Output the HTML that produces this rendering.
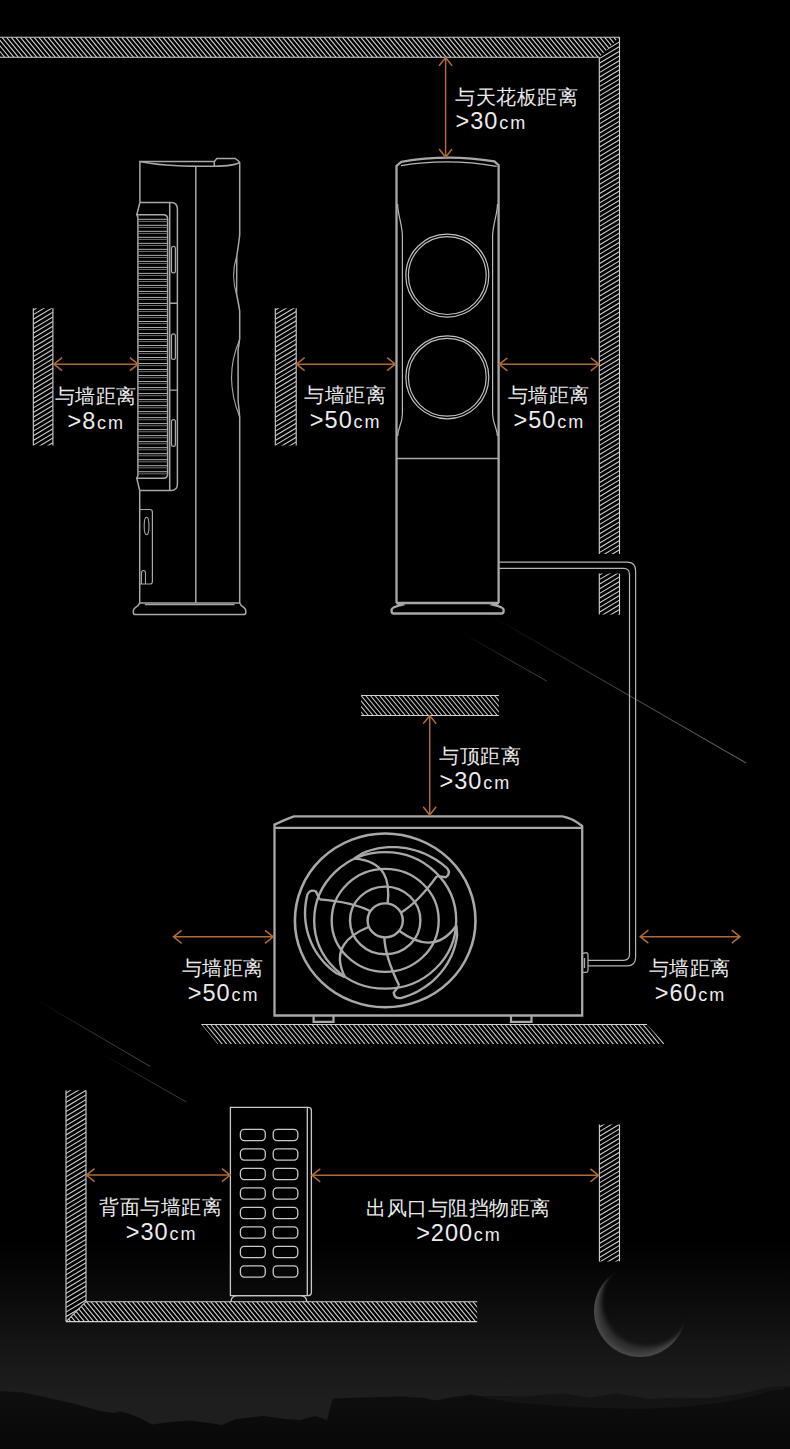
<!DOCTYPE html>
<html><head><meta charset="utf-8"><title>安装距离示意</title>
<style>
html,body{margin:0;padding:0;background:#000;overflow:hidden;}
#w{position:relative;width:790px;height:1449px;overflow:hidden;}
body{width:790px;height:1449px;position:relative;overflow:hidden;font-family:"Liberation Sans",sans-serif;color:#ececec;}
svg{position:absolute;left:0;top:0;display:block;}
.c,.l{position:absolute;white-space:nowrap;line-height:1;}
.c{font-size:19.5px;letter-spacing:0.5px;}
.l{font-size:23.5px;letter-spacing:1.0px;}
.u{font-size:18px;letter-spacing:2.0px;margin-left:0.8px;}
</style></head>
<body>
<div id="w">
<svg width="790" height="1449" viewBox="0 0 790 1449">

<defs>
<linearGradient id="bg" x1="0" y1="0" x2="0" y2="1449" gradientUnits="userSpaceOnUse">
<stop offset="0" stop-color="#000"/>
<stop offset="0.855" stop-color="#000"/>
<stop offset="0.9" stop-color="#0c0c0c"/>
<stop offset="0.935" stop-color="#171717"/>
<stop offset="0.966" stop-color="#1e1e1e"/>
<stop offset="1" stop-color="#1e1e1e"/>
</linearGradient>
<linearGradient id="mt" x1="0" y1="1385" x2="0" y2="1449" gradientUnits="userSpaceOnUse">
<stop offset="0" stop-color="#0f0f0f"/>
<stop offset="1" stop-color="#080808"/>
</linearGradient>
<radialGradient id="moonlit" cx="640" cy="1311" r="46" gradientUnits="userSpaceOnUse">
<stop offset="0.7" stop-color="#262626"/>
<stop offset="0.88" stop-color="#363636"/>
<stop offset="1" stop-color="#4a4a4a"/>
</radialGradient>
<filter id="mblur" x="-30%" y="-30%" width="160%" height="160%"><feGaussianBlur stdDeviation="2"/></filter>
<mask id="moonmask" maskUnits="userSpaceOnUse" x="560" y="1230" width="160" height="160">
<rect x="560" y="1230" width="160" height="160" fill="#000"/>
<circle cx="640" cy="1311" r="46" fill="#fff"/>
<circle cx="647.5" cy="1300.5" r="46" fill="#000" filter="url(#mblur)"/>
</mask>
<clipPath id="c1"><polygon points="0,37.3 619.5,37.3 599.3,57.3 0,57.3"/></clipPath>
<clipPath id="c2"><polygon points="599.3,57.3 619.5,37.3 619.5,554 599.3,554"/></clipPath>
<clipPath id="c3"><polygon points="599.3,573.6 619.5,573.6 619.5,614.6 599.3,614.6"/></clipPath>
<clipPath id="c4"><polygon points="33.3,308.2 52.9,308.2 52.9,445.5 33.3,445.5"/></clipPath>
<clipPath id="c5"><polygon points="275.3,308.2 296.2,308.2 296.2,445.5 275.3,445.5"/></clipPath>
<clipPath id="c6"><polygon points="361.1,695.5 498.9,695.5 498.9,715.5 361.1,715.5"/></clipPath>
<clipPath id="c7"><polygon points="201.4,1024.5 647,1024.5 665.268,1044.1 217.668,1044.1"/></clipPath>
<clipPath id="c8"><polygon points="66,1090.3 86,1090.3 86,1301.7 66,1321.6"/></clipPath>
<clipPath id="c9"><polygon points="66,1321.6 86,1301.7 477.2,1301.7 477.2,1321.6"/></clipPath>
<clipPath id="c10"><polygon points="599.4,1124.6 619.5,1124.6 619.5,1261.4 599.4,1261.4"/></clipPath>
</defs>
<rect width="790" height="1449" fill="url(#bg)"/>
<rect x="560" y="1230" width="160" height="160" fill="url(#moonlit)" mask="url(#moonmask)"/>
<path d="M470,1449 L470,1396 L490,1396 L527,1396.5 L545,1394.5 L565,1393.4 L590,1398 L600,1396 L617,1393.4 L650,1399 L670,1397.7 L710,1398 L740,1394 L770,1387 L790,1386 L790,1449 Z" fill="#141414"/>
<path d="M0,1391 L23,1392.5 L45,1397 L75,1404 L100,1411 L113,1413 L120,1411.5 L127,1413 L140,1418 L152,1424.5 L170,1422 L190,1420.5 L210,1423 L222,1425 L236,1419 L250,1417.5 L264,1416 L285,1419 L300,1420 L315,1416 L322,1418 L327,1420.8 L330,1408 L333,1398.5 L360,1397.5 L400,1396.5 L426,1398 L435,1400.5 L450,1397.5 L472,1394.5 L490,1399 L520,1403 L560,1406 L600,1408 L640,1409 L680,1407 L720,1403 L745,1398 L770,1391 L790,1388 L790,1449 L0,1449 Z" fill="url(#mt)"/>
<defs><linearGradient id="sg0" gradientUnits="userSpaceOnUse" x1="464.4" y1="634.3" x2="546.3" y2="680.8"><stop offset="0" stop-color="#444" stop-opacity="0"/><stop offset="0.5" stop-color="#444" stop-opacity="0.7"/><stop offset="1" stop-color="#444"/></linearGradient><linearGradient id="sg1" gradientUnits="userSpaceOnUse" x1="488.7" y1="614.4" x2="745.7" y2="762.8"><stop offset="0" stop-color="#5a5a5a" stop-opacity="0"/><stop offset="0.5" stop-color="#5a5a5a" stop-opacity="0.7"/><stop offset="1" stop-color="#5a5a5a"/></linearGradient><linearGradient id="sg2" gradientUnits="userSpaceOnUse" x1="36.2" y1="999.7" x2="149.8" y2="1066.2"><stop offset="0" stop-color="#484848" stop-opacity="0"/><stop offset="0.5" stop-color="#484848" stop-opacity="0.7"/><stop offset="1" stop-color="#484848"/></linearGradient><linearGradient id="sg3" gradientUnits="userSpaceOnUse" x1="102" y1="1054" x2="186" y2="1101.8"><stop offset="0" stop-color="#404040" stop-opacity="0"/><stop offset="0.5" stop-color="#404040" stop-opacity="0.7"/><stop offset="1" stop-color="#404040"/></linearGradient></defs>
<g stroke-linecap="round">
<line x1="464.4" y1="634.3" x2="546.3" y2="680.8" stroke="url(#sg0)" stroke-width="1.0"/>
<line x1="488.7" y1="614.4" x2="745.7" y2="762.8" stroke="url(#sg1)" stroke-width="1.1"/>
<line x1="36.2" y1="999.7" x2="149.8" y2="1066.2" stroke="url(#sg2)" stroke-width="1.0"/>
<line x1="102" y1="1054" x2="186" y2="1101.8" stroke="url(#sg3)" stroke-width="1.0"/>
</g>

<polygon points="0,37.3 619.5,37.3 599.3,57.3 0,57.3" fill="#000"/><path clip-path="url(#c1)" d="M-25.60,37.30L-9.00,57.30M-21.00,37.30L-4.40,57.30M-16.40,37.30L0.20,57.30M-11.80,37.30L4.80,57.30M-7.20,37.30L9.40,57.30M-2.60,37.30L14.00,57.30M2.00,37.30L18.60,57.30M6.60,37.30L23.20,57.30M11.20,37.30L27.80,57.30M15.80,37.30L32.40,57.30M20.40,37.30L37.00,57.30M25.00,37.30L41.60,57.30M29.60,37.30L46.20,57.30M34.20,37.30L50.80,57.30M38.80,37.30L55.40,57.30M43.40,37.30L60.00,57.30M48.00,37.30L64.60,57.30M52.60,37.30L69.20,57.30M57.20,37.30L73.80,57.30M61.80,37.30L78.40,57.30M66.40,37.30L83.00,57.30M71.00,37.30L87.60,57.30M75.60,37.30L92.20,57.30M80.20,37.30L96.80,57.30M84.80,37.30L101.40,57.30M89.40,37.30L106.00,57.30M94.00,37.30L110.60,57.30M98.60,37.30L115.20,57.30M103.20,37.30L119.80,57.30M107.80,37.30L124.40,57.30M112.40,37.30L129.00,57.30M117.00,37.30L133.60,57.30M121.60,37.30L138.20,57.30M126.20,37.30L142.80,57.30M130.80,37.30L147.40,57.30M135.40,37.30L152.00,57.30M140.00,37.30L156.60,57.30M144.60,37.30L161.20,57.30M149.20,37.30L165.80,57.30M153.80,37.30L170.40,57.30M158.40,37.30L175.00,57.30M163.00,37.30L179.60,57.30M167.60,37.30L184.20,57.30M172.20,37.30L188.80,57.30M176.80,37.30L193.40,57.30M181.40,37.30L198.00,57.30M186.00,37.30L202.60,57.30M190.60,37.30L207.20,57.30M195.20,37.30L211.80,57.30M199.80,37.30L216.40,57.30M204.40,37.30L221.00,57.30M209.00,37.30L225.60,57.30M213.60,37.30L230.20,57.30M218.20,37.30L234.80,57.30M222.80,37.30L239.40,57.30M227.40,37.30L244.00,57.30M232.00,37.30L248.60,57.30M236.60,37.30L253.20,57.30M241.20,37.30L257.80,57.30M245.80,37.30L262.40,57.30M250.40,37.30L267.00,57.30M255.00,37.30L271.60,57.30M259.60,37.30L276.20,57.30M264.20,37.30L280.80,57.30M268.80,37.30L285.40,57.30M273.40,37.30L290.00,57.30M278.00,37.30L294.60,57.30M282.60,37.30L299.20,57.30M287.20,37.30L303.80,57.30M291.80,37.30L308.40,57.30M296.40,37.30L313.00,57.30M301.00,37.30L317.60,57.30M305.60,37.30L322.20,57.30M310.20,37.30L326.80,57.30M314.80,37.30L331.40,57.30M319.40,37.30L336.00,57.30M324.00,37.30L340.60,57.30M328.60,37.30L345.20,57.30M333.20,37.30L349.80,57.30M337.80,37.30L354.40,57.30M342.40,37.30L359.00,57.30M347.00,37.30L363.60,57.30M351.60,37.30L368.20,57.30M356.20,37.30L372.80,57.30M360.80,37.30L377.40,57.30M365.40,37.30L382.00,57.30M370.00,37.30L386.60,57.30M374.60,37.30L391.20,57.30M379.20,37.30L395.80,57.30M383.80,37.30L400.40,57.30M388.40,37.30L405.00,57.30M393.00,37.30L409.60,57.30M397.60,37.30L414.20,57.30M402.20,37.30L418.80,57.30M406.80,37.30L423.40,57.30M411.40,37.30L428.00,57.30M416.00,37.30L432.60,57.30M420.60,37.30L437.20,57.30M425.20,37.30L441.80,57.30M429.80,37.30L446.40,57.30M434.40,37.30L451.00,57.30M439.00,37.30L455.60,57.30M443.60,37.30L460.20,57.30M448.20,37.30L464.80,57.30M452.80,37.30L469.40,57.30M457.40,37.30L474.00,57.30M462.00,37.30L478.60,57.30M466.60,37.30L483.20,57.30M471.20,37.30L487.80,57.30M475.80,37.30L492.40,57.30M480.40,37.30L497.00,57.30M485.00,37.30L501.60,57.30M489.60,37.30L506.20,57.30M494.20,37.30L510.80,57.30M498.80,37.30L515.40,57.30M503.40,37.30L520.00,57.30M508.00,37.30L524.60,57.30M512.60,37.30L529.20,57.30M517.20,37.30L533.80,57.30M521.80,37.30L538.40,57.30M526.40,37.30L543.00,57.30M531.00,37.30L547.60,57.30M535.60,37.30L552.20,57.30M540.20,37.30L556.80,57.30M544.80,37.30L561.40,57.30M549.40,37.30L566.00,57.30M554.00,37.30L570.60,57.30M558.60,37.30L575.20,57.30M563.20,37.30L579.80,57.30M567.80,37.30L584.40,57.30M572.40,37.30L589.00,57.30M577.00,37.30L593.60,57.30M581.60,37.30L598.20,57.30M586.20,37.30L602.80,57.30M590.80,37.30L607.40,57.30M595.40,37.30L612.00,57.30M600.00,37.30L616.60,57.30M604.60,37.30L621.20,57.30M609.20,37.30L625.80,57.30M613.80,37.30L630.40,57.30M618.40,37.30L635.00,57.30M623.00,37.30L639.60,57.30M627.60,37.30L644.20,57.30" stroke="#d2d2d2" stroke-width="1.05" fill="none"/>
<polygon points="599.3,57.3 619.5,37.3 619.5,554 599.3,554" fill="#000"/><path clip-path="url(#c2)" d="M599.30,35.34L619.50,23.22M599.30,40.00L619.50,27.88M599.30,44.66L619.50,32.54M599.30,49.32L619.50,37.20M599.30,53.98L619.50,41.86M599.30,58.64L619.50,46.52M599.30,63.30L619.50,51.18M599.30,67.96L619.50,55.84M599.30,72.62L619.50,60.50M599.30,77.28L619.50,65.16M599.30,81.94L619.50,69.82M599.30,86.60L619.50,74.48M599.30,91.26L619.50,79.14M599.30,95.92L619.50,83.80M599.30,100.58L619.50,88.46M599.30,105.24L619.50,93.12M599.30,109.90L619.50,97.78M599.30,114.56L619.50,102.44M599.30,119.22L619.50,107.10M599.30,123.88L619.50,111.76M599.30,128.54L619.50,116.42M599.30,133.20L619.50,121.08M599.30,137.86L619.50,125.74M599.30,142.52L619.50,130.40M599.30,147.18L619.50,135.06M599.30,151.84L619.50,139.72M599.30,156.50L619.50,144.38M599.30,161.16L619.50,149.04M599.30,165.82L619.50,153.70M599.30,170.48L619.50,158.36M599.30,175.14L619.50,163.02M599.30,179.80L619.50,167.68M599.30,184.46L619.50,172.34M599.30,189.12L619.50,177.00M599.30,193.78L619.50,181.66M599.30,198.44L619.50,186.32M599.30,203.10L619.50,190.98M599.30,207.76L619.50,195.64M599.30,212.42L619.50,200.30M599.30,217.08L619.50,204.96M599.30,221.74L619.50,209.62M599.30,226.40L619.50,214.28M599.30,231.06L619.50,218.94M599.30,235.72L619.50,223.60M599.30,240.38L619.50,228.26M599.30,245.04L619.50,232.92M599.30,249.70L619.50,237.58M599.30,254.36L619.50,242.24M599.30,259.02L619.50,246.90M599.30,263.68L619.50,251.56M599.30,268.34L619.50,256.22M599.30,273.00L619.50,260.88M599.30,277.66L619.50,265.54M599.30,282.32L619.50,270.20M599.30,286.98L619.50,274.86M599.30,291.64L619.50,279.52M599.30,296.30L619.50,284.18M599.30,300.96L619.50,288.84M599.30,305.62L619.50,293.50M599.30,310.28L619.50,298.16M599.30,314.94L619.50,302.82M599.30,319.60L619.50,307.48M599.30,324.26L619.50,312.14M599.30,328.92L619.50,316.80M599.30,333.58L619.50,321.46M599.30,338.24L619.50,326.12M599.30,342.90L619.50,330.78M599.30,347.56L619.50,335.44M599.30,352.22L619.50,340.10M599.30,356.88L619.50,344.76M599.30,361.54L619.50,349.42M599.30,366.20L619.50,354.08M599.30,370.86L619.50,358.74M599.30,375.52L619.50,363.40M599.30,380.18L619.50,368.06M599.30,384.84L619.50,372.72M599.30,389.50L619.50,377.38M599.30,394.16L619.50,382.04M599.30,398.82L619.50,386.70M599.30,403.48L619.50,391.36M599.30,408.14L619.50,396.02M599.30,412.80L619.50,400.68M599.30,417.46L619.50,405.34M599.30,422.12L619.50,410.00M599.30,426.78L619.50,414.66M599.30,431.44L619.50,419.32M599.30,436.10L619.50,423.98M599.30,440.76L619.50,428.64M599.30,445.42L619.50,433.30M599.30,450.08L619.50,437.96M599.30,454.74L619.50,442.62M599.30,459.40L619.50,447.28M599.30,464.06L619.50,451.94M599.30,468.72L619.50,456.60M599.30,473.38L619.50,461.26M599.30,478.04L619.50,465.92M599.30,482.70L619.50,470.58M599.30,487.36L619.50,475.24M599.30,492.02L619.50,479.90M599.30,496.68L619.50,484.56M599.30,501.34L619.50,489.22M599.30,506.00L619.50,493.88M599.30,510.66L619.50,498.54M599.30,515.32L619.50,503.20M599.30,519.98L619.50,507.86M599.30,524.64L619.50,512.52M599.30,529.30L619.50,517.18M599.30,533.96L619.50,521.84M599.30,538.62L619.50,526.50M599.30,543.28L619.50,531.16M599.30,547.94L619.50,535.82M599.30,552.60L619.50,540.48M599.30,557.26L619.50,545.14M599.30,561.92L619.50,549.80M599.30,566.58L619.50,554.46" stroke="#d2d2d2" stroke-width="1.05" fill="none"/>
<line x1="0" y1="37.3" x2="619.5" y2="37.3" stroke="#d2d2d2" stroke-width="1.1"/>
<line x1="0" y1="57.3" x2="599.3" y2="57.3" stroke="#d2d2d2" stroke-width="1.1"/>
<line x1="619.5" y1="37.3" x2="619.5" y2="554" stroke="#d2d2d2" stroke-width="1.1"/>
<line x1="599.3" y1="57.3" x2="599.3" y2="554" stroke="#d2d2d2" stroke-width="1.1"/>
<polygon points="599.3,573.6 619.5,573.6 619.5,614.6 599.3,614.6" fill="#000"/><path clip-path="url(#c3)" d="M599.30,570.34L619.50,558.22M599.30,575.00L619.50,562.88M599.30,579.66L619.50,567.54M599.30,584.32L619.50,572.20M599.30,588.98L619.50,576.86M599.30,593.64L619.50,581.52M599.30,598.30L619.50,586.18M599.30,602.96L619.50,590.84M599.30,607.62L619.50,595.50M599.30,612.28L619.50,600.16M599.30,616.94L619.50,604.82M599.30,621.60L619.50,609.48M599.30,626.26L619.50,614.14M599.30,630.92L619.50,618.80" stroke="#d2d2d2" stroke-width="1.05" fill="none"/>
<line x1="619.5" y1="573.6" x2="619.5" y2="614.6" stroke="#d2d2d2" stroke-width="1.1"/>
<line x1="599.3" y1="573.6" x2="599.3" y2="614.6" stroke="#d2d2d2" stroke-width="1.1"/>
<polygon points="33.3,308.2 52.9,308.2 52.9,445.5 33.3,445.5" fill="#000"/><path clip-path="url(#c4)" d="M33.30,305.34L52.90,293.58M33.30,310.00L52.90,298.24M33.30,314.66L52.90,302.90M33.30,319.32L52.90,307.56M33.30,323.98L52.90,312.22M33.30,328.64L52.90,316.88M33.30,333.30L52.90,321.54M33.30,337.96L52.90,326.20M33.30,342.62L52.90,330.86M33.30,347.28L52.90,335.52M33.30,351.94L52.90,340.18M33.30,356.60L52.90,344.84M33.30,361.26L52.90,349.50M33.30,365.92L52.90,354.16M33.30,370.58L52.90,358.82M33.30,375.24L52.90,363.48M33.30,379.90L52.90,368.14M33.30,384.56L52.90,372.80M33.30,389.22L52.90,377.46M33.30,393.88L52.90,382.12M33.30,398.54L52.90,386.78M33.30,403.20L52.90,391.44M33.30,407.86L52.90,396.10M33.30,412.52L52.90,400.76M33.30,417.18L52.90,405.42M33.30,421.84L52.90,410.08M33.30,426.50L52.90,414.74M33.30,431.16L52.90,419.40M33.30,435.82L52.90,424.06M33.30,440.48L52.90,428.72M33.30,445.14L52.90,433.38M33.30,449.80L52.90,438.04M33.30,454.46L52.90,442.70M33.30,459.12L52.90,447.36" stroke="#d2d2d2" stroke-width="1.05" fill="none"/>
<line x1="33.3" y1="308.2" x2="33.3" y2="445.5" stroke="#d2d2d2" stroke-width="1.1"/>
<line x1="52.9" y1="308.2" x2="52.9" y2="445.5" stroke="#d2d2d2" stroke-width="1.1"/>
<polygon points="275.3,308.2 296.2,308.2 296.2,445.5 275.3,445.5" fill="#000"/><path clip-path="url(#c5)" d="M275.30,305.34L296.20,292.80M275.30,310.00L296.20,297.46M275.30,314.66L296.20,302.12M275.30,319.32L296.20,306.78M275.30,323.98L296.20,311.44M275.30,328.64L296.20,316.10M275.30,333.30L296.20,320.76M275.30,337.96L296.20,325.42M275.30,342.62L296.20,330.08M275.30,347.28L296.20,334.74M275.30,351.94L296.20,339.40M275.30,356.60L296.20,344.06M275.30,361.26L296.20,348.72M275.30,365.92L296.20,353.38M275.30,370.58L296.20,358.04M275.30,375.24L296.20,362.70M275.30,379.90L296.20,367.36M275.30,384.56L296.20,372.02M275.30,389.22L296.20,376.68M275.30,393.88L296.20,381.34M275.30,398.54L296.20,386.00M275.30,403.20L296.20,390.66M275.30,407.86L296.20,395.32M275.30,412.52L296.20,399.98M275.30,417.18L296.20,404.64M275.30,421.84L296.20,409.30M275.30,426.50L296.20,413.96M275.30,431.16L296.20,418.62M275.30,435.82L296.20,423.28M275.30,440.48L296.20,427.94M275.30,445.14L296.20,432.60M275.30,449.80L296.20,437.26M275.30,454.46L296.20,441.92M275.30,459.12L296.20,446.58" stroke="#d2d2d2" stroke-width="1.05" fill="none"/>
<line x1="275.3" y1="308.2" x2="275.3" y2="445.5" stroke="#d2d2d2" stroke-width="1.1"/>
<line x1="296.2" y1="308.2" x2="296.2" y2="445.5" stroke="#d2d2d2" stroke-width="1.1"/>
<polygon points="361.1,695.5 498.9,695.5 498.9,715.5 361.1,715.5" fill="#000"/><path clip-path="url(#c6)" d="M338.10,695.50L354.70,715.50M342.70,695.50L359.30,715.50M347.30,695.50L363.90,715.50M351.90,695.50L368.50,715.50M356.50,695.50L373.10,715.50M361.10,695.50L377.70,715.50M365.70,695.50L382.30,715.50M370.30,695.50L386.90,715.50M374.90,695.50L391.50,715.50M379.50,695.50L396.10,715.50M384.10,695.50L400.70,715.50M388.70,695.50L405.30,715.50M393.30,695.50L409.90,715.50M397.90,695.50L414.50,715.50M402.50,695.50L419.10,715.50M407.10,695.50L423.70,715.50M411.70,695.50L428.30,715.50M416.30,695.50L432.90,715.50M420.90,695.50L437.50,715.50M425.50,695.50L442.10,715.50M430.10,695.50L446.70,715.50M434.70,695.50L451.30,715.50M439.30,695.50L455.90,715.50M443.90,695.50L460.50,715.50M448.50,695.50L465.10,715.50M453.10,695.50L469.70,715.50M457.70,695.50L474.30,715.50M462.30,695.50L478.90,715.50M466.90,695.50L483.50,715.50M471.50,695.50L488.10,715.50M476.10,695.50L492.70,715.50M480.70,695.50L497.30,715.50M485.30,695.50L501.90,715.50M489.90,695.50L506.50,715.50M494.50,695.50L511.10,715.50M499.10,695.50L515.70,715.50M503.70,695.50L520.30,715.50M508.30,695.50L524.90,715.50" stroke="#d2d2d2" stroke-width="1.05" fill="none"/>
<line x1="361.1" y1="695.5" x2="498.9" y2="695.5" stroke="#d2d2d2" stroke-width="1.1"/>
<line x1="361.1" y1="715.5" x2="498.9" y2="715.5" stroke="#d2d2d2" stroke-width="1.1"/>
<polygon points="201.4,1024.5 647,1024.5 665.268,1044.1 217.668,1044.1" fill="#000"/><path clip-path="url(#c7)" d="M178.40,1024.50L194.67,1044.10M183.00,1024.50L199.27,1044.10M187.60,1024.50L203.87,1044.10M192.20,1024.50L208.47,1044.10M196.80,1024.50L213.07,1044.10M201.40,1024.50L217.67,1044.10M206.00,1024.50L222.27,1044.10M210.60,1024.50L226.87,1044.10M215.20,1024.50L231.47,1044.10M219.80,1024.50L236.07,1044.10M224.40,1024.50L240.67,1044.10M229.00,1024.50L245.27,1044.10M233.60,1024.50L249.87,1044.10M238.20,1024.50L254.47,1044.10M242.80,1024.50L259.07,1044.10M247.40,1024.50L263.67,1044.10M252.00,1024.50L268.27,1044.10M256.60,1024.50L272.87,1044.10M261.20,1024.50L277.47,1044.10M265.80,1024.50L282.07,1044.10M270.40,1024.50L286.67,1044.10M275.00,1024.50L291.27,1044.10M279.60,1024.50L295.87,1044.10M284.20,1024.50L300.47,1044.10M288.80,1024.50L305.07,1044.10M293.40,1024.50L309.67,1044.10M298.00,1024.50L314.27,1044.10M302.60,1024.50L318.87,1044.10M307.20,1024.50L323.47,1044.10M311.80,1024.50L328.07,1044.10M316.40,1024.50L332.67,1044.10M321.00,1024.50L337.27,1044.10M325.60,1024.50L341.87,1044.10M330.20,1024.50L346.47,1044.10M334.80,1024.50L351.07,1044.10M339.40,1024.50L355.67,1044.10M344.00,1024.50L360.27,1044.10M348.60,1024.50L364.87,1044.10M353.20,1024.50L369.47,1044.10M357.80,1024.50L374.07,1044.10M362.40,1024.50L378.67,1044.10M367.00,1024.50L383.27,1044.10M371.60,1024.50L387.87,1044.10M376.20,1024.50L392.47,1044.10M380.80,1024.50L397.07,1044.10M385.40,1024.50L401.67,1044.10M390.00,1024.50L406.27,1044.10M394.60,1024.50L410.87,1044.10M399.20,1024.50L415.47,1044.10M403.80,1024.50L420.07,1044.10M408.40,1024.50L424.67,1044.10M413.00,1024.50L429.27,1044.10M417.60,1024.50L433.87,1044.10M422.20,1024.50L438.47,1044.10M426.80,1024.50L443.07,1044.10M431.40,1024.50L447.67,1044.10M436.00,1024.50L452.27,1044.10M440.60,1024.50L456.87,1044.10M445.20,1024.50L461.47,1044.10M449.80,1024.50L466.07,1044.10M454.40,1024.50L470.67,1044.10M459.00,1024.50L475.27,1044.10M463.60,1024.50L479.87,1044.10M468.20,1024.50L484.47,1044.10M472.80,1024.50L489.07,1044.10M477.40,1024.50L493.67,1044.10M482.00,1024.50L498.27,1044.10M486.60,1024.50L502.87,1044.10M491.20,1024.50L507.47,1044.10M495.80,1024.50L512.07,1044.10M500.40,1024.50L516.67,1044.10M505.00,1024.50L521.27,1044.10M509.60,1024.50L525.87,1044.10M514.20,1024.50L530.47,1044.10M518.80,1024.50L535.07,1044.10M523.40,1024.50L539.67,1044.10M528.00,1024.50L544.27,1044.10M532.60,1024.50L548.87,1044.10M537.20,1024.50L553.47,1044.10M541.80,1024.50L558.07,1044.10M546.40,1024.50L562.67,1044.10M551.00,1024.50L567.27,1044.10M555.60,1024.50L571.87,1044.10M560.20,1024.50L576.47,1044.10M564.80,1024.50L581.07,1044.10M569.40,1024.50L585.67,1044.10M574.00,1024.50L590.27,1044.10M578.60,1024.50L594.87,1044.10M583.20,1024.50L599.47,1044.10M587.80,1024.50L604.07,1044.10M592.40,1024.50L608.67,1044.10M597.00,1024.50L613.27,1044.10M601.60,1024.50L617.87,1044.10M606.20,1024.50L622.47,1044.10M610.80,1024.50L627.07,1044.10M615.40,1024.50L631.67,1044.10M620.00,1024.50L636.27,1044.10M624.60,1024.50L640.87,1044.10M629.20,1024.50L645.47,1044.10M633.80,1024.50L650.07,1044.10M638.40,1024.50L654.67,1044.10M643.00,1024.50L659.27,1044.10M647.60,1024.50L663.87,1044.10M652.20,1024.50L668.47,1044.10M656.80,1024.50L673.07,1044.10M661.40,1024.50L677.67,1044.10M666.00,1024.50L682.27,1044.10" stroke="#d2d2d2" stroke-width="1.05" fill="none"/>
<line x1="201.4" y1="1024.5" x2="647" y2="1024.5" stroke="#d2d2d2" stroke-width="1.1"/>
<polygon points="66,1090.3 86,1090.3 86,1301.7 66,1321.6" fill="#000"/><path clip-path="url(#c8)" d="M66.00,1088.34L86.00,1076.34M66.00,1093.00L86.00,1081.00M66.00,1097.66L86.00,1085.66M66.00,1102.32L86.00,1090.32M66.00,1106.98L86.00,1094.98M66.00,1111.64L86.00,1099.64M66.00,1116.30L86.00,1104.30M66.00,1120.96L86.00,1108.96M66.00,1125.62L86.00,1113.62M66.00,1130.28L86.00,1118.28M66.00,1134.94L86.00,1122.94M66.00,1139.60L86.00,1127.60M66.00,1144.26L86.00,1132.26M66.00,1148.92L86.00,1136.92M66.00,1153.58L86.00,1141.58M66.00,1158.24L86.00,1146.24M66.00,1162.90L86.00,1150.90M66.00,1167.56L86.00,1155.56M66.00,1172.22L86.00,1160.22M66.00,1176.88L86.00,1164.88M66.00,1181.54L86.00,1169.54M66.00,1186.20L86.00,1174.20M66.00,1190.86L86.00,1178.86M66.00,1195.52L86.00,1183.52M66.00,1200.18L86.00,1188.18M66.00,1204.84L86.00,1192.84M66.00,1209.50L86.00,1197.50M66.00,1214.16L86.00,1202.16M66.00,1218.82L86.00,1206.82M66.00,1223.48L86.00,1211.48M66.00,1228.14L86.00,1216.14M66.00,1232.80L86.00,1220.80M66.00,1237.46L86.00,1225.46M66.00,1242.12L86.00,1230.12M66.00,1246.78L86.00,1234.78M66.00,1251.44L86.00,1239.44M66.00,1256.10L86.00,1244.10M66.00,1260.76L86.00,1248.76M66.00,1265.42L86.00,1253.42M66.00,1270.08L86.00,1258.08M66.00,1274.74L86.00,1262.74M66.00,1279.40L86.00,1267.40M66.00,1284.06L86.00,1272.06M66.00,1288.72L86.00,1276.72M66.00,1293.38L86.00,1281.38M66.00,1298.04L86.00,1286.04M66.00,1302.70L86.00,1290.70M66.00,1307.36L86.00,1295.36M66.00,1312.02L86.00,1300.02M66.00,1316.68L86.00,1304.68M66.00,1321.34L86.00,1309.34M66.00,1326.00L86.00,1314.00M66.00,1330.66L86.00,1318.66M66.00,1335.32L86.00,1323.32" stroke="#d2d2d2" stroke-width="1.05" fill="none"/>
<polygon points="66,1321.6 86,1301.7 477.2,1301.7 477.2,1321.6" fill="#000"/><path clip-path="url(#c9)" d="M40.40,1301.70L56.92,1321.60M45.00,1301.70L61.52,1321.60M49.60,1301.70L66.12,1321.60M54.20,1301.70L70.72,1321.60M58.80,1301.70L75.32,1321.60M63.40,1301.70L79.92,1321.60M68.00,1301.70L84.52,1321.60M72.60,1301.70L89.12,1321.60M77.20,1301.70L93.72,1321.60M81.80,1301.70L98.32,1321.60M86.40,1301.70L102.92,1321.60M91.00,1301.70L107.52,1321.60M95.60,1301.70L112.12,1321.60M100.20,1301.70L116.72,1321.60M104.80,1301.70L121.32,1321.60M109.40,1301.70L125.92,1321.60M114.00,1301.70L130.52,1321.60M118.60,1301.70L135.12,1321.60M123.20,1301.70L139.72,1321.60M127.80,1301.70L144.32,1321.60M132.40,1301.70L148.92,1321.60M137.00,1301.70L153.52,1321.60M141.60,1301.70L158.12,1321.60M146.20,1301.70L162.72,1321.60M150.80,1301.70L167.32,1321.60M155.40,1301.70L171.92,1321.60M160.00,1301.70L176.52,1321.60M164.60,1301.70L181.12,1321.60M169.20,1301.70L185.72,1321.60M173.80,1301.70L190.32,1321.60M178.40,1301.70L194.92,1321.60M183.00,1301.70L199.52,1321.60M187.60,1301.70L204.12,1321.60M192.20,1301.70L208.72,1321.60M196.80,1301.70L213.32,1321.60M201.40,1301.70L217.92,1321.60M206.00,1301.70L222.52,1321.60M210.60,1301.70L227.12,1321.60M215.20,1301.70L231.72,1321.60M219.80,1301.70L236.32,1321.60M224.40,1301.70L240.92,1321.60M229.00,1301.70L245.52,1321.60M233.60,1301.70L250.12,1321.60M238.20,1301.70L254.72,1321.60M242.80,1301.70L259.32,1321.60M247.40,1301.70L263.92,1321.60M252.00,1301.70L268.52,1321.60M256.60,1301.70L273.12,1321.60M261.20,1301.70L277.72,1321.60M265.80,1301.70L282.32,1321.60M270.40,1301.70L286.92,1321.60M275.00,1301.70L291.52,1321.60M279.60,1301.70L296.12,1321.60M284.20,1301.70L300.72,1321.60M288.80,1301.70L305.32,1321.60M293.40,1301.70L309.92,1321.60M298.00,1301.70L314.52,1321.60M302.60,1301.70L319.12,1321.60M307.20,1301.70L323.72,1321.60M311.80,1301.70L328.32,1321.60M316.40,1301.70L332.92,1321.60M321.00,1301.70L337.52,1321.60M325.60,1301.70L342.12,1321.60M330.20,1301.70L346.72,1321.60M334.80,1301.70L351.32,1321.60M339.40,1301.70L355.92,1321.60M344.00,1301.70L360.52,1321.60M348.60,1301.70L365.12,1321.60M353.20,1301.70L369.72,1321.60M357.80,1301.70L374.32,1321.60M362.40,1301.70L378.92,1321.60M367.00,1301.70L383.52,1321.60M371.60,1301.70L388.12,1321.60M376.20,1301.70L392.72,1321.60M380.80,1301.70L397.32,1321.60M385.40,1301.70L401.92,1321.60M390.00,1301.70L406.52,1321.60M394.60,1301.70L411.12,1321.60M399.20,1301.70L415.72,1321.60M403.80,1301.70L420.32,1321.60M408.40,1301.70L424.92,1321.60M413.00,1301.70L429.52,1321.60M417.60,1301.70L434.12,1321.60M422.20,1301.70L438.72,1321.60M426.80,1301.70L443.32,1321.60M431.40,1301.70L447.92,1321.60M436.00,1301.70L452.52,1321.60M440.60,1301.70L457.12,1321.60M445.20,1301.70L461.72,1321.60M449.80,1301.70L466.32,1321.60M454.40,1301.70L470.92,1321.60M459.00,1301.70L475.52,1321.60M463.60,1301.70L480.12,1321.60M468.20,1301.70L484.72,1321.60M472.80,1301.70L489.32,1321.60M477.40,1301.70L493.92,1321.60M482.00,1301.70L498.52,1321.60" stroke="#d2d2d2" stroke-width="1.05" fill="none"/>
<line x1="66" y1="1090.3" x2="66" y2="1321.6" stroke="#d2d2d2" stroke-width="1.1"/>
<line x1="86" y1="1090.3" x2="86" y2="1301.7" stroke="#d2d2d2" stroke-width="1.1"/>
<line x1="86" y1="1301.7" x2="477.2" y2="1301.7" stroke="#d2d2d2" stroke-width="1.1"/>
<line x1="66" y1="1321.6" x2="477.2" y2="1321.6" stroke="#d2d2d2" stroke-width="1.1"/>
<line x1="66" y1="1321.6" x2="86" y2="1301.7" stroke="#d2d2d2" stroke-width="1.1"/>
<polygon points="599.4,1124.6 619.5,1124.6 619.5,1261.4 599.4,1261.4" fill="#000"/><path clip-path="url(#c10)" d="M599.40,1122.34L619.50,1110.28M599.40,1127.00L619.50,1114.94M599.40,1131.66L619.50,1119.60M599.40,1136.32L619.50,1124.26M599.40,1140.98L619.50,1128.92M599.40,1145.64L619.50,1133.58M599.40,1150.30L619.50,1138.24M599.40,1154.96L619.50,1142.90M599.40,1159.62L619.50,1147.56M599.40,1164.28L619.50,1152.22M599.40,1168.94L619.50,1156.88M599.40,1173.60L619.50,1161.54M599.40,1178.26L619.50,1166.20M599.40,1182.92L619.50,1170.86M599.40,1187.58L619.50,1175.52M599.40,1192.24L619.50,1180.18M599.40,1196.90L619.50,1184.84M599.40,1201.56L619.50,1189.50M599.40,1206.22L619.50,1194.16M599.40,1210.88L619.50,1198.82M599.40,1215.54L619.50,1203.48M599.40,1220.20L619.50,1208.14M599.40,1224.86L619.50,1212.80M599.40,1229.52L619.50,1217.46M599.40,1234.18L619.50,1222.12M599.40,1238.84L619.50,1226.78M599.40,1243.50L619.50,1231.44M599.40,1248.16L619.50,1236.10M599.40,1252.82L619.50,1240.76M599.40,1257.48L619.50,1245.42M599.40,1262.14L619.50,1250.08M599.40,1266.80L619.50,1254.74M599.40,1271.46L619.50,1259.40M599.40,1276.12L619.50,1264.06" stroke="#d2d2d2" stroke-width="1.05" fill="none"/>
<line x1="599.4" y1="1124.6" x2="599.4" y2="1261.4" stroke="#d2d2d2" stroke-width="1.1"/>
<line x1="619.5" y1="1124.6" x2="619.5" y2="1261.4" stroke="#d2d2d2" stroke-width="1.1"/>
<path d="M139.9,202.4 L139.9,161.4 L214.3,161.4" stroke="#a8a8a8" stroke-width="1.5" fill="none" />
<path d="M139.9,161.6 C160,166 190,166.6 214.3,166.2 C228,166 236,164.8 239.7,162.5" stroke="#a8a8a8" stroke-width="1.5" fill="none" />
<path d="M214.3,166 L214.3,161.8 L216.8,158.4 L235.2,158.4 L239.7,162" stroke="#a8a8a8" stroke-width="1.5" fill="none" />
<path d="M239.7,162 L239.7,235 Q239.2,240 236.8,256 L236.6,294 Q238.8,305 239.7,311 L239.7,338.5 Q239.2,343 238.1,350 L238.1,401 Q239.2,410 239.7,417.5 L239.7,603" stroke="#a8a8a8" stroke-width="1.5" fill="none" />
<path d="M195.8,166 L195.8,603" stroke="#a8a8a8" stroke-width="1.5" fill="none" />
<path d="M139.9,202.4 L171,202.4 Q177.4,202.4 177.4,209 L177.4,484 Q177.4,490.5 171,490.5 L139.7,490.5" stroke="#a8a8a8" stroke-width="1.5" fill="none" />
<path d="M169.7,202.4 L169.7,490.5" stroke="#a8a8a8" stroke-width="1.5" fill="none" />
<path d="M139.9,202.4 L136.8,214.7 L137.9,217.5 L137.9,475.5 L136.8,478.3 L139.7,490.5" stroke="#a8a8a8" stroke-width="1.5" fill="none" />
<path d="M136.6,214.7 L163.5,214.7 Q167.6,214.7 167.6,219 L167.6,474 Q167.6,478.3 163.5,478.3 L136.6,478.3" stroke="#a8a8a8" stroke-width="1.5" fill="none" />
<path d="M138.4,219.30L167.6,219.30M138.4,225.31L167.6,225.31M138.4,231.32L167.6,231.32M138.4,237.33L167.6,237.33M138.4,243.34L167.6,243.34M138.4,249.35L167.6,249.35M138.4,255.36L167.6,255.36M138.4,261.37L167.6,261.37M138.4,267.38L167.6,267.38M138.4,273.39L167.6,273.39M138.4,279.40L167.6,279.40M138.4,285.41L167.6,285.41M138.4,291.42L167.6,291.42M138.4,297.43L167.6,297.43M138.4,303.44L167.6,303.44M138.4,309.45L167.6,309.45M138.4,315.46L167.6,315.46M138.4,321.47L167.6,321.47M138.4,327.48L167.6,327.48M138.4,333.49L167.6,333.49M138.4,339.50L167.6,339.50M138.4,345.51L167.6,345.51M138.4,351.52L167.6,351.52M138.4,357.53L167.6,357.53M138.4,363.54L167.6,363.54M138.4,369.55L167.6,369.55M138.4,375.56L167.6,375.56M138.4,381.57L167.6,381.57M138.4,387.58L167.6,387.58M138.4,393.59L167.6,393.59M138.4,399.60L167.6,399.60M138.4,405.61L167.6,405.61M138.4,411.62L167.6,411.62M138.4,417.63L167.6,417.63M138.4,423.64L167.6,423.64M138.4,429.65L167.6,429.65M138.4,435.66L167.6,435.66M138.4,441.67L167.6,441.67M138.4,447.68L167.6,447.68M138.4,453.69L167.6,453.69M138.4,459.70L167.6,459.70M138.4,465.71L167.6,465.71M138.4,471.72L167.6,471.72" stroke="#b0b0b0" stroke-width="1.0" fill="none" />
<path d="M138.4,221.40L167.6,221.40M138.4,227.41L167.6,227.41M138.4,233.42L167.6,233.42M138.4,239.43L167.6,239.43M138.4,245.44L167.6,245.44M138.4,251.45L167.6,251.45M138.4,257.46L167.6,257.46M138.4,263.47L167.6,263.47M138.4,269.48L167.6,269.48M138.4,275.49L167.6,275.49M138.4,281.50L167.6,281.50M138.4,287.51L167.6,287.51M138.4,293.52L167.6,293.52M138.4,299.53L167.6,299.53M138.4,305.54L167.6,305.54M138.4,311.55L167.6,311.55M138.4,317.56L167.6,317.56M138.4,323.57L167.6,323.57M138.4,329.58L167.6,329.58M138.4,335.59L167.6,335.59M138.4,341.60L167.6,341.60M138.4,347.61L167.6,347.61M138.4,353.62L167.6,353.62M138.4,359.63L167.6,359.63M138.4,365.64L167.6,365.64M138.4,371.65L167.6,371.65M138.4,377.66L167.6,377.66M138.4,383.67L167.6,383.67M138.4,389.68L167.6,389.68M138.4,395.69L167.6,395.69M138.4,401.70L167.6,401.70M138.4,407.71L167.6,407.71M138.4,413.72L167.6,413.72M138.4,419.73L167.6,419.73M138.4,425.74L167.6,425.74M138.4,431.75L167.6,431.75M138.4,437.76L167.6,437.76M138.4,443.77L167.6,443.77M138.4,449.78L167.6,449.78M138.4,455.79L167.6,455.79M138.4,461.80L167.6,461.80M138.4,467.81L167.6,467.81M138.4,473.82L167.6,473.82" stroke="#7a7a7a" stroke-width="0.9" fill="none" />
<rect x="171.5" y="246.3" width="3.9" height="26.6" rx="1.9" stroke="#a8a8a8" stroke-width="1.2" fill="none"/>
<rect x="171.5" y="333.8" width="3.9" height="25.7" rx="1.9" stroke="#a8a8a8" stroke-width="1.2" fill="none"/>
<rect x="171.5" y="419.7" width="3.9" height="26.6" rx="1.9" stroke="#a8a8a8" stroke-width="1.2" fill="none"/>
<path d="M169.7,303.3 L177.4,303.3 M169.7,390.1 L177.4,390.1" stroke="#a8a8a8" stroke-width="1.4" fill="none" />
<path d="M139.7,490.5 L139.7,603" stroke="#a8a8a8" stroke-width="1.5" fill="none" />
<path d="M139.7,509.5 L150,509.5 Q152.4,509.5 152.4,512 L152.4,581.5 Q152.4,584 150,584 L139.7,584" stroke="#a8a8a8" stroke-width="1.2" fill="none" />
<ellipse cx="146.6" cy="526" rx="2.4" ry="8.8" stroke="#a8a8a8" stroke-width="1.1" fill="none"/>
<path d="M141.5,584 L141.5,573 Q141.5,570.5 143.5,570.5 Q145.5,570.5 145.5,573 L145.5,584" stroke="#a8a8a8" stroke-width="1.1" fill="none" />
<path d="M139.7,603 L239.7,603" stroke="#a8a8a8" stroke-width="1.5" fill="none" />
<path d="M144.8,604.6 L234.6,604.6" stroke="#a8a8a8" stroke-width="1.2" fill="none" />
<path d="M139.7,603 Q139,605.5 135,607.8 Q133.3,609 133.3,611 L133.3,612.4 Q133.3,614.5 135.5,614.5 L243.6,614.5 Q245.8,614.5 245.8,612.4 L245.8,611 Q245.8,609 244.3,607.8 Q240.4,605.5 239.7,603" stroke="#a8a8a8" stroke-width="1.5" fill="none" />
<path d="M236.7,256 Q230.5,275.5 236.7,295" stroke="#a8a8a8" stroke-width="1.1" fill="none" />
<path d="M239.5,340 Q223.5,377 239.7,417" stroke="#a8a8a8" stroke-width="1.1" fill="none" />
<path d="M396.5,603 L396.5,166 L401.3,161.8 Q447.8,153.6 494.4,161.4 L498.6,165.2 L498.6,603" stroke="#a8a8a8" stroke-width="2.3" fill="none" />
<path d="M401,165.6 Q447.8,158 496.7,166.3" stroke="#b8b8b8" stroke-width="1.2" fill="none" />
<path d="M397.6,204 C397.6,214 402.2,224 402.4,236 L402.4,414 C402.2,424 397.8,428 397.7,436" stroke="#b8b8b8" stroke-width="1.2" fill="none" />
<path d="M497.5,204 C497.5,214 492.8,224 492.6,236 L492.6,414 C492.8,424 497.3,428 497.4,436" stroke="#b8b8b8" stroke-width="1.2" fill="none" />
<path d="M396.5,458.5 L498.6,458.5" stroke="#a8a8a8" stroke-width="1.6" fill="none" />
<circle cx="447.3" cy="275.6" r="41.5" stroke="#c0c0c0" stroke-width="1.2" fill="none"/>
<circle cx="447.3" cy="275.6" r="38.9" stroke="#c0c0c0" stroke-width="1.2" fill="none"/>
<circle cx="447.3" cy="377.3" r="41.5" stroke="#c0c0c0" stroke-width="1.2" fill="none"/>
<circle cx="447.3" cy="377.3" r="38.9" stroke="#c0c0c0" stroke-width="1.2" fill="none"/>
<path d="M396.5,603 L498.6,603" stroke="#a8a8a8" stroke-width="2.3" fill="none" />
<path d="M396.5,603 L401.7,604.8 Q392.2,606.8 391.6,609.5 L391.6,611.3 Q391.6,613.5 393.8,613.5 L501.4,613.5 Q503.6,613.5 503.6,611.3 L503.6,609.5 Q503,606.8 493.4,604.8 L498.6,603" stroke="#a8a8a8" stroke-width="2.3" fill="none" />
<path d="M499,562.2 L627,562.2 Q635.6,562.2 635.6,570.8 L635.6,957.3 Q635.6,965.9 627,965.9 L588,965.9" stroke="#b4b4b4" stroke-width="1.2" fill="none" />
<path d="M499,568.3 L623.5,568.3 Q629.5,568.3 629.5,574.3 L629.5,954.3 Q629.5,960.3 623.5,960.3 L588,960.3" stroke="#b4b4b4" stroke-width="1.2" fill="none" />
<path d="M274.5,1015.5 L274.5,824.6 Q284,820 294,816.4 L562.4,816.4 Q572,818 582.2,826 L582.2,1015.5 Z" stroke="#a8a8a8" stroke-width="2.3" fill="none" />
<path d="M274.5,827.8 L582.2,827.8" stroke="#a8a8a8" stroke-width="2.3" fill="none" />
<path d="M313.6,1015.5 L313.6,1021.8 L333.5,1021.8 L333.5,1015.5 M511,1015.5 L511,1021.8 L531.5,1021.8 L531.5,1015.5" stroke="#a8a8a8" stroke-width="2.2" fill="none" />
<path d="M582.2,953.5 L586.5,952.6 Q588,953 588,955 L588,970 Q588,972 586.5,972.4 L582.2,972.4 M584.5,958 L584.5,968" stroke="#a8a8a8" stroke-width="1.3" fill="none" />
<g transform="translate(385.2,920.4) scale(1,0.962)" stroke="#a8a8a8" stroke-width="2.4" fill="none"><circle r="90.3" stroke-width="2.6"/><circle r="17.6" /><circle r="35.2" /><circle r="53.5" /><circle r="71" /><path d="M2.40,-17.30 C5.00,-40.00 1.00,-62.00 -31.00,-64.30"/><path d="M15.60,-8.00 C30.00,-17.00 42.00,-32.00 51.70,-46.00"/><path d="M-31.00,-64.30 L-22.71,-69.90 L-18.70,-71.54 L-14.57,-72.94 L-10.35,-74.10 L-6.04,-75.02 L-1.65,-75.68 L2.79,-76.09 L7.27,-76.23 L11.78,-76.11 L16.30,-75.72 L20.82,-75.07 L25.31,-74.14 L29.77,-72.94 L34.17,-71.47 L38.50,-69.74 L42.74,-67.74 L46.88,-65.49 L50.91,-62.98 L54.80,-60.22 L58.54,-57.22 L62.11,-53.99 Q65.92,-48.78 60.69,-44.91 L51.70,-46.00"/><path d="M13.78,10.73 C32.14,24.33 53.19,31.87 71.19,5.30"/><path d="M-0.87,17.51 C-0.28,34.48 6.71,52.37 13.99,67.77"/><path d="M71.19,5.30 L71.89,15.28 L71.30,19.57 L70.45,23.85 L69.35,28.09 L67.99,32.28 L66.37,36.41 L64.50,40.46 L62.38,44.42 L60.02,48.26 L57.43,51.98 L54.60,55.56 L51.55,58.99 L48.28,62.25 L44.81,65.33 L41.15,68.21 L37.30,70.89 L33.27,73.35 L29.09,75.58 L24.75,77.57 L20.29,79.31 L15.70,80.79 Q9.28,81.47 8.55,75.01 L13.99,67.77"/><path d="M-16.18,6.57 C-37.14,15.67 -54.19,30.13 -40.19,59.00"/><path d="M-14.73,-9.51 C-29.72,-17.48 -48.71,-20.37 -65.69,-21.77"/><path d="M-40.19,59.00 L-49.18,54.62 L-52.60,51.96 L-55.88,49.09 L-59.00,46.01 L-61.95,42.74 L-64.72,39.27 L-67.29,35.63 L-69.66,31.82 L-71.81,27.85 L-73.73,23.74 L-75.42,19.50 L-76.86,15.15 L-78.05,10.69 L-78.98,6.15 L-79.65,1.53 L-80.04,-3.14 L-80.16,-7.86 L-79.99,-12.60 L-79.55,-17.34 L-78.83,-22.08 L-77.82,-26.79 Q-75.20,-32.70 -69.24,-30.11 L-65.69,-21.77"/></g>
<path d="M230.4,1295.6 L230.4,1107.4 L308.4,1107.4 Q311.4,1107.4 311.4,1110.4 L311.4,1292.6 Q311.4,1295.6 308.4,1295.6 Z" stroke="#c8c8c8" stroke-width="1.3" fill="none" />
<path d="M307.3,1107.4 L307.3,1295.6" stroke="#c8c8c8" stroke-width="1.3" fill="none" />
<path d="M231,1301.9 Q231,1296 237,1295.6 L300.7,1295.6 Q306.7,1296 306.7,1301.9" stroke="#c8c8c8" stroke-width="1.3" fill="none" />
<rect x="240.4" y="1129.30" width="24.9" height="11.3" rx="4" stroke="#c8c8c8" stroke-width="1.3" fill="none"/>
<rect x="273.2" y="1129.30" width="24.6" height="11.3" rx="4" stroke="#c8c8c8" stroke-width="1.3" fill="none"/>
<rect x="240.4" y="1148.80" width="24.9" height="11.3" rx="4" stroke="#c8c8c8" stroke-width="1.3" fill="none"/>
<rect x="273.2" y="1148.80" width="24.6" height="11.3" rx="4" stroke="#c8c8c8" stroke-width="1.3" fill="none"/>
<rect x="240.4" y="1168.30" width="24.9" height="11.3" rx="4" stroke="#c8c8c8" stroke-width="1.3" fill="none"/>
<rect x="273.2" y="1168.30" width="24.6" height="11.3" rx="4" stroke="#c8c8c8" stroke-width="1.3" fill="none"/>
<rect x="240.4" y="1187.80" width="24.9" height="11.3" rx="4" stroke="#c8c8c8" stroke-width="1.3" fill="none"/>
<rect x="273.2" y="1187.80" width="24.6" height="11.3" rx="4" stroke="#c8c8c8" stroke-width="1.3" fill="none"/>
<rect x="240.4" y="1207.30" width="24.9" height="11.3" rx="4" stroke="#c8c8c8" stroke-width="1.3" fill="none"/>
<rect x="273.2" y="1207.30" width="24.6" height="11.3" rx="4" stroke="#c8c8c8" stroke-width="1.3" fill="none"/>
<rect x="240.4" y="1226.80" width="24.9" height="11.3" rx="4" stroke="#c8c8c8" stroke-width="1.3" fill="none"/>
<rect x="273.2" y="1226.80" width="24.6" height="11.3" rx="4" stroke="#c8c8c8" stroke-width="1.3" fill="none"/>
<rect x="240.4" y="1246.30" width="24.9" height="11.3" rx="4" stroke="#c8c8c8" stroke-width="1.3" fill="none"/>
<rect x="273.2" y="1246.30" width="24.6" height="11.3" rx="4" stroke="#c8c8c8" stroke-width="1.3" fill="none"/>
<rect x="240.4" y="1265.80" width="24.9" height="11.3" rx="4" stroke="#c8c8c8" stroke-width="1.3" fill="none"/>
<rect x="273.2" y="1265.80" width="24.6" height="11.3" rx="4" stroke="#c8c8c8" stroke-width="1.3" fill="none"/>
<path d="M445.6,57.6 L445.6,157.2 M439.1,65.8 L445.6,57.6 L452.1,65.8 M439.1,149.0 L445.6,157.2 L452.1,149.0 M53.9,364.2 L138.1,364.2 M62.099999999999994,357.7 L53.9,364.2 L62.099999999999994,370.7 M129.9,357.7 L138.1,364.2 L129.9,370.7 M296.4,364.2 L395.3,364.2 M304.59999999999997,357.7 L296.4,364.2 L304.59999999999997,370.7 M387.1,357.7 L395.3,364.2 L387.1,370.7 M499.2,364.3 L599,364.3 M507.4,357.8 L499.2,364.3 L507.4,370.8 M590.8,357.8 L599,364.3 L590.8,370.8 M429.7,715.6 L429.7,815 M423.2,723.8000000000001 L429.7,715.6 L436.2,723.8000000000001 M423.2,806.8 L429.7,815 L436.2,806.8 M173.5,936.8 L273.2,936.8 M181.7,930.3 L173.5,936.8 L181.7,943.3 M265.0,930.3 L273.2,936.8 L265.0,943.3 M640.2,936.7 L740,936.7 M648.4000000000001,930.2 L640.2,936.7 L648.4000000000001,943.2 M731.8,930.2 L740,936.7 L731.8,943.2 M86.4,1175.1 L230.2,1175.1 M94.60000000000001,1168.6 L86.4,1175.1 L94.60000000000001,1181.6 M222.0,1168.6 L230.2,1175.1 L222.0,1181.6 M312,1175.3 L598.6,1175.3 M320.2,1168.8 L312,1175.3 L320.2,1181.8 M590.4,1168.8 L598.6,1175.3 L590.4,1181.8" stroke="#b06a3a" stroke-width="1.5" fill="none" stroke-linejoin="miter"/>
</svg>
<div class="c" style="left:455.0px;top:88.1px">与天花板距离</div>
<div class="l" style="left:455.5px;top:110.4px">&gt;30<span class="u">cm</span></div>
<div class="c" style="left:-24.4px;width:240px;text-align:center;top:386.5px">与墙距离</div>
<div class="l" style="left:-23.7px;width:240px;text-align:center;top:409.6px">&gt;8<span class="u">cm</span></div>
<div class="c" style="left:225.0px;width:240px;text-align:center;top:386.3px">与墙距离</div>
<div class="l" style="left:225.7px;width:240px;text-align:center;top:409.4px">&gt;50<span class="u">cm</span></div>
<div class="c" style="left:428.7px;width:240px;text-align:center;top:386.1px">与墙距离</div>
<div class="l" style="left:429.4px;width:240px;text-align:center;top:409.2px">&gt;50<span class="u">cm</span></div>
<div class="c" style="left:439.0px;top:746.5px">与顶距离</div>
<div class="l" style="left:439.5px;top:769.6px">&gt;30<span class="u">cm</span></div>
<div class="c" style="left:102.9px;width:240px;text-align:center;top:959.3px">与墙距离</div>
<div class="l" style="left:103.6px;width:240px;text-align:center;top:982.1px">&gt;50<span class="u">cm</span></div>
<div class="c" style="left:569.8px;width:240px;text-align:center;top:959.3px">与墙距离</div>
<div class="l" style="left:570.5px;width:240px;text-align:center;top:981.8px">&gt;60<span class="u">cm</span></div>
<div class="c" style="left:40.9px;width:240px;text-align:center;top:1197.8px">背面与墙距离</div>
<div class="l" style="left:41.6px;width:240px;text-align:center;top:1221.2px">&gt;30<span class="u">cm</span></div>
<div class="c" style="left:338.3px;width:240px;text-align:center;top:1198.6px">出风口与阻挡物距离</div>
<div class="l" style="left:339.0px;width:240px;text-align:center;top:1221.7px">&gt;200<span class="u">cm</span></div>
</div>
</body></html>
